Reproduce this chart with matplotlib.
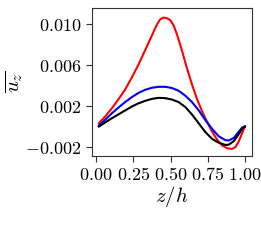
import matplotlib
matplotlib.use("Agg")
import matplotlib.pyplot as plt

plt.rcParams['mathtext.fontset'] = 'cm'
plt.rcParams['font.family'] = 'serif'
plt.rcParams['font.serif'] = ['DejaVu Serif']

# ── Data ─────────────────────────────────────────────────────────────────────
z_red = [0.018, 0.059, 0.104, 0.149, 0.194, 0.239, 0.284, 0.33, 0.375, 0.409,
         0.431, 0.454, 0.476, 0.499, 0.521, 0.542, 0.576, 0.610, 0.644, 0.678,
         0.712, 0.745, 0.779, 0.813, 0.847, 0.881, 0.915, 0.937, 0.960, 0.982, 1.0]
u_red = [0.00033, 0.00096, 0.00176, 0.00265, 0.0036, 0.00478, 0.00605, 0.00749,
         0.00892, 0.0100, 0.0105, 0.01067, 0.0106, 0.0104, 0.0099, 0.00908,
         0.00749, 0.00574, 0.00414, 0.00271, 0.0015, 0.00049, -0.00047, -0.00127,
         -0.00184, -0.00212, -0.00219, -0.0020, -0.00142, -0.00063, 0.0]

z_blue = [0.018, 0.059, 0.104, 0.149, 0.194, 0.239, 0.284, 0.33, 0.375, 0.42,
          0.465, 0.508, 0.554, 0.599, 0.644, 0.689, 0.734, 0.779, 0.824, 0.87,
          0.892, 0.926, 0.96, 0.982, 1.0]
u_blue = [0.0001, 0.00064, 0.00128, 0.00185, 0.00239, 0.00287, 0.00329, 0.0036,
          0.0038, 0.00389, 0.00389, 0.00378, 0.00351, 0.00303, 0.0024, 0.0016,
          0.00064, -0.00021, -0.00095, -0.00133, -0.00136, -0.00111, -0.00047,
          -0.00009, 0.0]

z_black = [0.018, 0.059, 0.104, 0.149, 0.194, 0.239, 0.284, 0.33, 0.375, 0.42,
           0.465, 0.508, 0.554, 0.599, 0.644, 0.689, 0.734, 0.779, 0.824, 0.87,
           0.892, 0.926, 0.96, 0.982, 1.0]
u_black = [0.0, 0.00039, 0.0008, 0.00119, 0.00157, 0.00195, 0.00227, 0.00252,
           0.00271, 0.00281, 0.00278, 0.00265, 0.0024, 0.00192, 0.00119, 0.00033,
           -0.00053, -0.0012, -0.00158, -0.0018, -0.00177, -0.00142, -0.00072,
           -0.00021, 0.0]

xticks = [0.0, 0.25, 0.5, 0.75, 1.0]
xtick_labels = [r'$0.00$', r'$0.25$', r'$0.50$', r'$0.75$', r'$1.00$']
yticks = [-0.002, 0.002, 0.006, 0.010]
ytick_labels = [r'$-0.002$', r'$0.002$', r'$0.006$', r'$0.010$']

# ── Figure ───────────────────────────────────────────────────────────────────
fig = plt.figure(figsize=(2.61, 2.43), dpi=100, facecolor='white')
ax = fig.add_axes([0.352, 0.358, 0.614, 0.609])

ax.plot(z_red, u_red, color='red', lw=1.5)
ax.plot(z_blue, u_blue, color='blue', lw=1.5)
ax.plot(z_black, u_black, color='black', lw=1.5)

ax.set_xlim(-0.029, 1.049)
ax.set_ylim(-0.00288, 0.0116)
ax.set_xticks(xticks)
ax.set_xticklabels(xtick_labels)
ax.set_yticks(yticks)
ax.set_yticklabels(ytick_labels)
ax.tick_params(labelsize=13, length=4, width=0.8, colors='#333333',
               labelcolor='black')
for s in ax.spines.values():
    s.set_color('#333333')
    s.set_linewidth(0.8)

ax.set_xlabel(r'$z/h$', fontsize=15, labelpad=0)
ax.set_ylabel(r'$\overline{u_z}$', fontsize=15, labelpad=0)

fig.savefig('out.png', dpi=100, facecolor='white')
